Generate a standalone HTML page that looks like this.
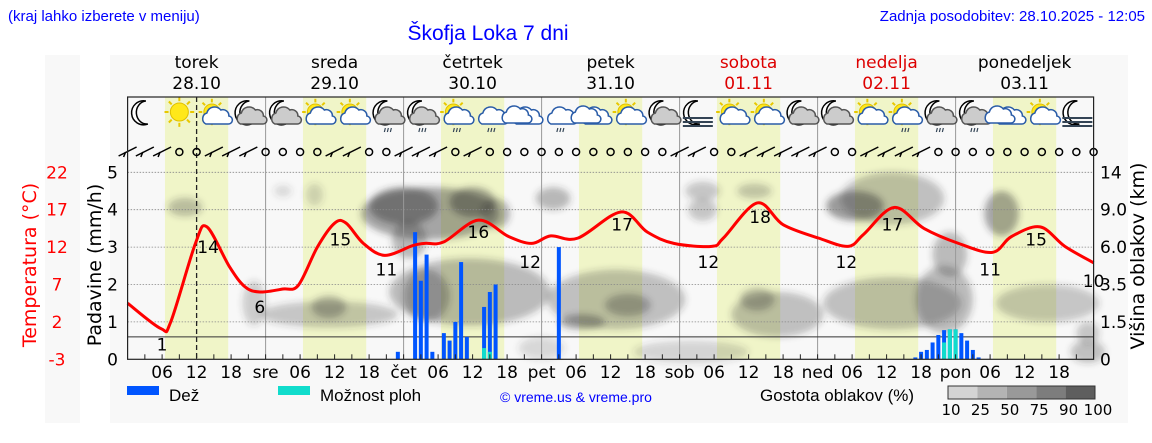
<!DOCTYPE html>
<html><head><meta charset="utf-8"><style>
body{margin:0;background:#fff;}
svg{display:block;font-family:"DejaVu Sans",sans-serif;}
.ls{font-family:"Liberation Sans",sans-serif;}
</style></head><body>
<svg id="chart" width="1152" height="443" viewBox="0 0 1152 443" xmlns="http://www.w3.org/2000/svg">
<defs><filter id="blur" x="-50%" y="-50%" width="200%" height="200%"><feGaussianBlur stdDeviation="3.5"/></filter></defs>
<rect x="45" y="55" width="35" height="368" fill="#f8f8f8"/>
<rect x="110" y="55" width="1018" height="368" fill="#f8f8f8"/>
<text class="ls" x="8" y="21" font-size="15" fill="#0000ff">(kraj lahko izberete v meniju)</text>
<text class="ls" x="488" y="40" font-size="21" fill="#0000ff" text-anchor="middle">Škofja Loka 7 dni</text>
<text class="ls" x="1145" y="21" font-size="15" fill="#0000ff" text-anchor="end">Zadnja posodobitev: 28.10.2025 - 12:05</text>
<g id="bands"></g><g id="clouds" filter="url(#blur)"></g><g id="grid"></g><g id="bars"></g><g id="temp"></g><g id="icons"></g><g id="wind"></g><g id="axes"></g>
<g>
<rect x="127" y="386" width="32" height="9" fill="#0055ff"/>
<text class="ls" x="169" y="401" font-size="17">Dež</text>
<rect x="278" y="386" width="32" height="9" fill="#11dccc"/>
<text class="ls" x="320" y="401" font-size="17">Možnost ploh</text>
<text class="ls" x="500" y="402" font-size="14" fill="#0000ff">© vreme.us &amp; vreme.pro</text>
<text class="ls" x="760" y="401" font-size="17">Gostota oblakov (%)</text>
<g id="cscale"></g>
</g>
</svg>
<script>
const hours=[0,168];
const dayNames=["torek","sreda","četrtek","petek","sobota","nedelja","ponedeljek"];
const dayDates=["28.10","29.10","30.10","31.10","01.11","02.11","03.11"];
const dayWeekend=[0,0,0,0,1,1,0];
const midLabels=["","sre","čet","pet","sob","ned","pon"];
const precipTicks=[0,1,2,3,4,5];
const tempTicks=[22,17,12,7,2,-3];
const heightTicks=["0","1.5","3.5","6.0","9.0","14"];
const tempHours=[0,5.8,7.5,11.8,13.8,17.7,20.4,23,27,29.7,33,36,38,41,44.7,49.6,51.7,55,61,66.3,70.3,73.6,78.3,85.8,90.4,95,101.6,103.6,109.5,114,120.2,125.3,128,133.3,138.5,144.5,150.4,153.7,158.7,163,168];
const tempValues=[4.5,1.1,2.0,12.5,14.7,9.4,6.7,6.0,6.4,6.9,12.0,15.2,15.2,12.5,10.9,12.2,12.5,12.7,15.6,13.4,12.5,13.5,13.2,16.7,14.0,12.5,12.1,13.2,17.9,15.0,13.2,12.1,13.7,17.3,14.5,12.5,11.3,13.4,14.7,12.1,9.9];
const tempLabelHours=[6,14,23,37,45,61,70,86,101,110,125,133,150,158,168];
const tempLabelValues=[1,14,6,15,11,16,12,17,12,18,12,17,11,15,10];
const rainHours=[47,50,51,52,53,55,56,57,58,59,62,63,64,75,137,138,139,140,141,142,143,144,145,146,147,148];
const rainValues=[0.2,3.4,2.1,2.8,0.2,0.7,0.5,1.0,2.6,0.6,1.4,1.8,2.0,3.0,0.05,0.2,0.25,0.45,0.65,0.78,0.8,0.8,0.7,0.5,0.25,0.05];
const showerValues=[0,0,0,0,0,0,0,0,0,0,0.3,0.2,0,0,0,0,0,0,0,0.45,0.8,0.8,0,0,0,0];
const cloudHours=[10,22,35,35,32.5,27,52.6,48,60,49,64,74,59.5,52,85,79,87,98,100,100,109,113,109.5,133,126.5,133,143,142,152,160,167,167,72];
const cloudLevels=[4.07,1.5,1.2,1.4,4.4,4.5,3.9,4.1,4.2,3.2,3.9,4.3,1.8,1.7,1.6,1.0,1.45,0.2,4.5,4.0,4.5,1.2,1.6,4.3,4.1,1.5,2.8,1.6,3.9,1.5,0.7,0.2,0.3];
const cloudDensity=[0.5,0.4,0.45,0.6,0.35,0.3,0.75,0.85,0.8,0.6,0.65,0.6,0.55,0.6,0.5,0.75,0.6,0.35,0.45,0.45,0.45,0.5,0.6,0.5,0.85,0.5,0.55,0.55,0.75,0.45,0.45,0.5,0.3];
const cloudSpanH=[3,2,12,3,1.5,1.5,12,6,4,3,2.5,3,14,4,12,4,4,10,3,2.5,3,8,3,9,5,12,3,5,3,9,2,3,4];
const cloudSpanV=[0.25,0.6,0.35,0.3,0.3,0.15,0.7,0.5,0.4,0.5,0.4,0.3,0.9,0.7,0.8,0.2,0.3,0.3,0.25,0.3,0.2,0.6,0.3,0.7,0.4,0.7,0.6,0.9,0.6,0.5,0.3,0.3,0.3];
const iconTypes=["m","s","sc","mc","mc","sc","sc","mcr","mcr","scr","cr","c","cr","c","sc","mc","mf","sc","sc","mc","mc","sc","scr","mcr","mcr","c","sc","mf"];
const windBarbHours=[0,3,6,15,18,21,36,39,48,51,54,60,96,99,108,111,114,117,120,129,132,135,138];
const densityLabels=["10","25","50","75","90","100"];
const densityShades=["#d4d4d4","#b4b4b4","#999","#7d7d7d","#5e5e5e"];

const X0=127.6,X1=1093.6,Y0=359.3,PU=37.4,TY=7.48;
const xs=h=>X0+(h-hours[0])/(hours[1]-hours[0])*(X1-X0);
const yp=v=>Y0-v*PU;
const yt=t=>Y0-(t+3)*TY;
const NS="http://www.w3.org/2000/svg";
function mk(tag,attrs,parent,txt){const e=document.createElementNS(NS,tag);for(const k in attrs)e.setAttribute(k,attrs[k]);if(txt!==undefined)e.textContent=txt;parent.appendChild(e);return e;}
const G=id=>document.getElementById(id);

for(let d=0;d<7;d++){const r=mk('rect',{x:xs(d*24+6.5),y:97,width:xs(17.5)-xs(6.5),height:Y0-97,fill:'#f0f5c8'},G('bands'));

}
cloudHours.forEach((h,i)=>{const e=mk('ellipse',{cx:xs(h),cy:yp(cloudLevels[i]),rx:xs(cloudSpanH[i])-xs(0),ry:cloudSpanV[i]*PU,fill:'#333',opacity:(cloudDensity[i]*0.55).toFixed(2)},G('clouds'));

});
precipTicks.slice(1).forEach(v=>{const l=mk('line',{x1:X0,x2:X1,y1:yp(v),y2:yp(v),stroke:'#888','stroke-width':0.8,'stroke-dasharray':'1.5,1.5'},G('grid'));

});
for(let d=1;d<7;d++){const l=mk('line',{x1:xs(d*24),x2:xs(d*24),y1:97,y2:Y0,stroke:'#999','stroke-width':1},G('grid'));

}
const thr=mk('line',{x1:X0,x2:X1,y1:yp(0.6),y2:yp(0.6),stroke:'#333','stroke-width':1},G('grid'));


const nowl=mk('line',{x1:xs(12),x2:xs(12),y1:97,y2:Y0,stroke:'#222','stroke-width':1.3,'stroke-dasharray':'5,3'},G('grid'));


rainHours.forEach((h,i)=>{const x=xs(h)-2;const b=mk('rect',{x:x,y:yp(rainValues[i]),width:4,height:rainValues[i]*PU,fill:'#0055ff'},G('bars'));


if(showerValues[i]>0){const s=mk('rect',{x:x,y:yp(showerValues[i]),width:4,height:showerValues[i]*PU,fill:'#11dccc'},G('bars'));

}});
const pts=tempHours.map((h,i)=>[xs(h),yt(tempValues[i])]);
let d='M'+pts[0][0]+','+pts[0][1];
for(let i=0;i<pts.length-1;i++){const p0=pts[Math.max(0,i-1)],p1=pts[i],p2=pts[i+1],p3=pts[Math.min(pts.length-1,i+2)];
d+=` C${p1[0]+(p2[0]-p0[0])/6},${p1[1]+(p2[1]-p0[1])/6} ${p2[0]-(p3[0]-p1[0])/6},${p2[1]-(p3[1]-p1[1])/6} ${p2[0]},${p2[1]}`;}
const tl=mk('path',{d:d,fill:'none',stroke:'#ff0000','stroke-width':3},G('temp'));


tempLabelHours.forEach((h,i)=>{const t=mk('text',{x:xs(h),y:yt(tempLabelValues[i])+(i==14?25:21),'font-size':17,'text-anchor':'middle'},G('temp'),String(tempLabelValues[i]));

});
function sun(g,x,y,r){for(let k=0;k<8;k++){const a=k*Math.PI/4;mk('line',{x1:x+Math.cos(a)*r*1.2,y1:y+Math.sin(a)*r*1.2,x2:x+Math.cos(a)*r*1.65,y2:y+Math.sin(a)*r*1.65,stroke:'#e8c800','stroke-width':2},g);}mk('circle',{cx:x,cy:y,r:r,fill:'#ffe81a',stroke:'#e0c000'},g);}
function moon(g,x,y){mk('path',{d:`M${x+4},${y-12} A12,12 0 1,0 ${x+6},${y+11} A10,11 0 0,1 ${x+4},${y-12}Z`,fill:'#fff',stroke:'#000','stroke-width':1.5},g);}
function cloud(g,x,y,col,st){mk('path',{d:`M${x-11},${y+8} a6,6 0 0,1 1,-11 a8,8 0 0,1 14,-3 a6,6 0 0,1 8,6 a4,4 0 0,1 -1,8 Z`,fill:col,stroke:st,'stroke-width':1.5},g);}
iconTypes.forEach((t,i)=>{const x=xs(3+6*i),y=115;const g=mk('g',{},G('icons'));


if(t[0]=='m'){moon(g,x-3,y-2);} if(t[0]=='s'){sun(g,x-(t.length>1?2:0),y-3,t.length>1?8:9);}
if(t.includes('c')){const dark=t[0]=='m';cloud(g,x+3,y+1,dark?'#ccc':'#fff',dark?'#555':'#2a5ca8');}
if(t=='c'){cloud(g,x-8,y,'#fff','#2a5ca8');}
if(t.includes('r')){for(let k=0;k<3;k++)mk('line',{x1:x+k*3-1,y1:y+13,x2:x+k*3-2,y2:y+17,stroke:'#345','stroke-width':1.2},g);}
if(t=='mf'){for(let k=0;k<3;k++)mk('line',{x1:x-14,x2:x+16,y1:y+3+k*4,y2:y+3+k*4,stroke:'#345','stroke-width':2},g);}
});
for(let h=0;h<=168;h+=3){const x=xs(h),y=152;
if(windBarbHours.includes(h)){const g=mk('g',{},G('wind'));


mk('line',{x1:x-9,y1:y+4,x2:x+9,y2:y-5,stroke:'#000','stroke-width':1.5},g);mk('line',{x1:x-2,y1:y,x2:x-4,y2:y+5,stroke:'#000','stroke-width':1.5},g);}
else{const c=mk('circle',{cx:x,cy:y,r:3.5,fill:'none',stroke:'#000','stroke-width':1.5},G('wind'));

}}
const ax=G('axes');
const fr=mk('rect',{x:X0,y:97,width:X1-X0,height:Y0-97,fill:'none',stroke:'#222','stroke-width':1.2},ax);


precipTicks.forEach((v,i)=>{const t=mk('text',{x:118,y:yp(v)+6,'font-size':17,'text-anchor':'end'},ax,String(v));


const r=mk('text',{x:1100,y:yp(v)+6,'font-size':17},ax,heightTicks[i]);

});
tempTicks.forEach(v=>{const t=mk('text',{x:57,y:yt(v)+6,'font-size':17,'text-anchor':'middle',fill:'#ff0000'},ax,String(v));

});
for(let h=3;h<168;h+=3){mk('line',{x1:xs(h),x2:xs(h),y1:Y0,y2:Y0-5,stroke:'#222'},ax);}
for(let d=0;d<7;d++){[6,12,18].forEach(hh=>{const t=mk('text',{x:xs(d*24+hh),y:378,'font-size':17,'text-anchor':'middle'},ax,String(hh).padStart(2,'0'));

});
if(midLabels[d]){const t=mk('text',{x:xs(d*24),y:378,'font-size':17,'text-anchor':'middle'},ax,midLabels[d]);

}
const col=dayWeekend[d]?'#dd0000':'#000';
const n=mk('text',{x:xs(d*24+12),y:68,'font-size':17,'text-anchor':'middle',fill:col},ax,dayNames[d]);


const dt=mk('text',{x:xs(d*24+12),y:89,'font-size':17,'text-anchor':'middle',fill:col},ax,dayDates[d]);

}
const yl=mk('text',{x:0,y:0,'font-size':19,'text-anchor':'middle',transform:`translate(101,265) rotate(-90)`},ax,'Padavine (mm/h)');


const tl2=mk('text',{x:0,y:0,'font-size':19,'text-anchor':'middle',fill:'#ff0000',transform:`translate(36,265) rotate(-90)`},ax,'Temperatura (°C)');


const rl=mk('text',{x:0,y:0,'font-size':19,'text-anchor':'middle',transform:`translate(1144,256) rotate(-90)`},ax,'Višina oblakov (km)');


const cs=G('cscale');
densityShades.forEach((c,i)=>{const r=mk('rect',{x:948+i*29.4,y:386,width:29.4,height:13,fill:c},cs);

});
mk('rect',{x:948,y:386,width:147,height:13,fill:'none',stroke:'#333'},cs);
densityLabels.forEach((l,i)=>{const t=mk('text',{x:951+i*29.4,y:415,'font-size':15,'text-anchor':'middle'},cs,l);

});
</script>
</body></html>
